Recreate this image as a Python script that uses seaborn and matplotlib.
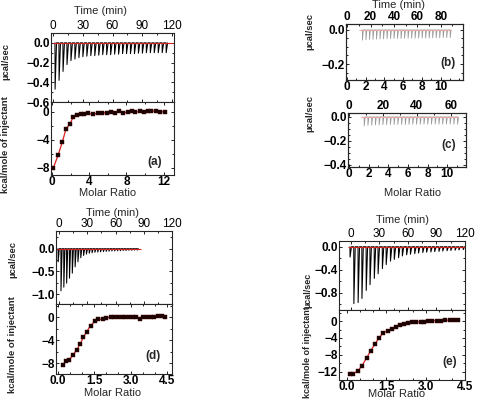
import numpy as np
import pandas as pd
import seaborn as sns
import matplotlib.pyplot as plt
from matplotlib.ticker import MultipleLocator

# ---- panel (a) ----
time_a = [2, 6, 10, 14, 18, 22, 26, 30, 34, 38, 42, 46, 50, 54, 58, 62, 66, 70, 74,
          78, 82, 86, 90, 94, 98, 102, 106, 110, 114]
peak_a = [-0.47, -0.38, -0.29, -0.22, -0.18, -0.165, -0.15, -0.14, -0.135, -0.13,
          -0.13, -0.125, -0.12, -0.12, -0.12, -0.115, -0.115, -0.11, -0.11, -0.11,
          -0.11, -0.105, -0.105, -0.1, -0.1, -0.1, -0.1, -0.1, -0.1]
ratio_a = [0.14, 0.68, 1.11, 1.5, 1.93, 2.29, 2.71, 3.11, 3.46, 3.89, 4.36, 4.96, 5.39,
           5.86, 6.29, 6.75, 7.18, 7.64, 8.11, 8.54, 8.96, 9.43, 9.89, 10.32, 10.68,
           11.14, 11.57, 12.1]
heat_a = [-8.05, -6.1, -4.3, -2.5, -1.7, -0.75, -0.45, -0.3, -0.3, -0.2, -0.35, -0.2,
          -0.2, -0.1, 0.0, -0.1, 0.05, -0.2, 0.0, 0.05, -0.05, 0.05, 0.0, 0.1, 0.1,
          0.1, 0.0, 0.0]

# ---- panel (b) ----
time_b = [13, 16, 19, 22, 25, 28, 31, 34, 37, 40, 43, 46, 49, 52, 55, 58, 61, 64, 67,
          70, 73, 76, 79, 82, 85, 88]
peak_b = [-0.06, -0.058, -0.056, -0.055, -0.054, -0.053, -0.052, -0.052, -0.051, -0.05,
          -0.05, -0.05, -0.049, -0.049, -0.048, -0.048, -0.048, -0.047, -0.047, -0.047,
          -0.046, -0.046, -0.046, -0.045, -0.045, -0.045]

# ---- panel (c) ----
time_c = [9, 11.2, 13.4, 15.6, 17.8, 20, 22.2, 24.4, 26.6, 28.8, 31, 33.2, 35.4, 37.6,
          39.8, 42, 44.2, 46.4, 48.6, 50.8, 53, 55.2, 57.4, 59.6, 61.8, 64]
peak_c = [-0.075, -0.07, -0.068, -0.066, -0.065, -0.064, -0.064, -0.063, -0.063, -0.062,
          -0.062, -0.062, -0.061, -0.061, -0.061, -0.06, -0.06, -0.06, -0.06, -0.06,
          -0.06, -0.06, -0.06, -0.06, -0.06, -0.06]

# ---- panel (d) ----
time_d = [-1, 2, 5, 8, 11, 14, 17, 20, 23, 26, 29, 32, 35, 38, 41, 44, 47, 50, 53, 56,
          59, 62, 65, 68, 71, 74, 77, 80, 83]
peak_d = [-0.29, -0.93, -0.85, -0.76, -0.65, -0.54, -0.40, -0.29, -0.20, -0.15, -0.12,
          -0.10, -0.09, -0.08, -0.075, -0.07, -0.065, -0.06, -0.055, -0.05, -0.05, -0.045,
          -0.045, -0.04, -0.04, -0.035, -0.035, -0.03, -0.03]
ratio_d = [0.19, 0.33, 0.47, 0.63, 0.77, 0.91, 1.05, 1.19, 1.35, 1.53, 1.67, 1.85, 2.0,
           2.18, 2.33, 2.48, 2.63, 2.78, 2.93, 3.08, 3.23, 3.38, 3.53, 3.68, 3.83, 3.98,
           4.13, 4.28, 4.42]
heat_d = [-8.3, -7.7, -7.4, -6.55, -5.7, -4.75, -3.5, -2.5, -1.45, -0.7, -0.4, -0.3, -0.1,
          0.0, 0.0, 0.05, 0.1, 0.1, 0.1, 0.1, 0.1, -0.25, 0.1, 0.1, 0.1, 0.1, 0.15, 0.2, 0.1]

# ---- panel (e) ----
time_e = [-1, 3, 7.5, 11.5, 16, 20, 24.5, 28.5, 33, 37, 41.5, 45.5, 50, 54, 58.5, 62.5,
          67, 71, 75.5, 79.5, 84, 88, 92.5, 96.5, 101, 105, 109.5, 113.5, 118]
peak_e = [-0.18, -0.99, -0.97, -0.90, -0.76, -0.66, -0.55, -0.47, -0.38, -0.31, -0.25,
          -0.22, -0.19, -0.16, -0.14, -0.13, -0.12, -0.11, -0.10, -0.095, -0.09, -0.085,
          -0.08, -0.075, -0.07, -0.065, -0.06, -0.055, -0.05]
ratio_e = [0.11, 0.24, 0.41, 0.56, 0.75, 0.91, 1.07, 1.22, 1.38, 1.55, 1.70, 1.87, 2.02,
           2.18, 2.34, 2.49, 2.65, 2.81, 2.95, 3.10, 3.26, 3.42, 3.58, 3.73, 3.92, 4.09, 4.22]
heat_e = [-12.6, -12.4, -11.8, -10.7, -8.7, -7.0, -5.4, -4.0, -2.8, -2.3, -1.8, -1.4, -1.0,
          -0.7, -0.47, -0.3, -0.24, -0.24, -0.24, -0.1, 0.0, 0.1, 0.1, 0.2, 0.2, 0.2, 0.2]

# baseline extents (min)
base_a = (0, 121)
base_b = (10, 89)
base_c = (7, 64)
base_d = (-2.5, 87)
base_e = (-3, 120)

sns.set_theme(style="ticks")
plt.rcParams['font.family'] = ['Liberation Sans', 'DejaVu Sans']
plt.rcParams['axes.linewidth'] = 0.8

W, H = 478, 400
fig = plt.figure(figsize=(4.78, 4.0), dpi=100)


def px_axes(x0, y0, x1, y1):
    return fig.add_axes([x0 / W, 1 - y1 / H, (x1 - x0) / W, (y1 - y0) / H])


def style(ax, xmaj, xmin, ymaj, ymin):
    ax.xaxis.set_major_locator(MultipleLocator(xmaj))
    ax.xaxis.set_minor_locator(MultipleLocator(xmin))
    ax.yaxis.set_major_locator(MultipleLocator(ymaj))
    ax.yaxis.set_minor_locator(MultipleLocator(ymin))
    ax.tick_params(which='both', direction='in', top=True, right=True,
                   width=0.6, labelsize=8.5, pad=1.0, colors='black')
    ax.tick_params(which='major', length=2.5)
    ax.tick_params(which='minor', length=1.5)
    bold(ax)
    ax.set_xlabel('')
    ax.set_ylabel('')


def bold(ax):
    for lab in ax.get_xticklabels() + ax.get_yticklabels():
        lab.set_fontweight('bold')


def trace(times, peaks, width):
    xs, ys = [], []
    for t, p in zip(times, peaks):
        xs += [t, t + 0.08 * width, t + width]
        ys += [0, p, 0]
    return pd.DataFrame({'t': xs, 'q': ys})


def thermo(ax, times, peaks, width, base, color, bcolor, lw=0.75):
    df = trace(times, peaks, width)
    sns.lineplot(data=df, x='t', y='q', sort=False, estimator=None,
                 color=color, lw=lw, ax=ax)
    ax.hlines(0, base[0], base[1], color=bcolor, lw=0.8, zorder=3)


def binding(ax, ratio, heat):
    df = pd.DataFrame({'r': ratio, 'h': heat})
    sns.lineplot(data=df, x='r', y='h', color='#e02020', lw=0.9, ax=ax, zorder=2)
    sns.scatterplot(data=df, x='r', y='h', marker='s', s=7, color='#150303',
                    edgecolor='#4a0000', linewidth=0.3, ax=ax, zorder=3)


def time_top(ax):
    ax.tick_params(labelbottom=False, labeltop=True)


def vlabel(x, y, s, size=6.8):
    fig.text(x / W, 1 - y / H, s, rotation=90, ha='center', va='center',
             fontsize=size, fontweight='bold')


def hlabel(x, y, s):
    fig.text(x / W, 1 - y / H, s, ha='center', va='center', fontsize=8)


def letter(ax, x, y, s):
    ax.text(x, y, s, transform=ax.transAxes, ha='center', va='center',
            fontsize=8.5, fontweight='bold')


# ---------- (a) ----------
ax = px_axes(51, 33, 174, 102)
thermo(ax, time_a, peak_a, 1.6, base_a, 'black', '#d42020')
ax.set_xlim(-2, 122)
ax.set_ylim(-0.6, 0.1)
style(ax, 30, 15, 0.2, 0.1)
time_top(ax)

ax = px_axes(51, 102, 174, 175)
binding(ax, ratio_a, heat_a)
ax.set_xlim(-0.1, 13.1)
ax.set_ylim(-9, 1.4)
style(ax, 4, 2, 4, 2)
letter(ax, 0.84, 0.18, '(a)')

hlabel(100, 11, 'Time (min)')
hlabel(108, 193, 'Molar Ratio')
vlabel(6, 61, 'µcal/sec')
vlabel(6, 145, 'kcal/mole of injectant')

# ---------- (b) ----------
ax = px_axes(346, 24, 463, 80)
ax.set_xlim(-0.1, 12.4)
ax.set_ylim(-0.294, 0.035)
style(ax, 2, 1, 0.2, 0.05)
ax.set_xticks([0, 2, 4, 6, 8, 10])
ax.tick_params(top=False)
bold(ax)
axt = ax.twiny()
thermo(axt, time_b, peak_b, 0.8, base_b, '#9a9a9a', '#e8a8a8', lw=0.6)
axt.set_xlim(-1, 99)
style(axt, 20, 10, 0.2, 0.05)
axt.tick_params(right=False, bottom=False, labelbottom=False)
letter(ax, 0.87, 0.3, '(b)')
hlabel(399, 5, 'Time (min)')
vlabel(310, 31, 'µcal/sec')

# ---------- (c) ----------
ax = px_axes(348, 113, 466, 167)
ax.set_xlim(-0.1, 11.9)
ax.set_ylim(-0.417, 0.033)
style(ax, 2, 1, 0.2, 0.05)
ax.set_xticks([0, 2, 4, 6, 8, 10])
ax.tick_params(top=False)
bold(ax)
axt = ax.twiny()
thermo(axt, time_c, peak_c, 0.6, base_c, '#9a9a9a', '#e8a8a8', lw=0.6)
axt.set_xlim(-0.5, 69)
style(axt, 20, 10, 0.2, 0.05)
axt.tick_params(right=False, bottom=False, labelbottom=False)
letter(ax, 0.85, 0.4, '(c)')
hlabel(413, 193, 'Molar Ratio')
vlabel(310, 113, 'µcal/sec')

# ---------- (d) ----------
ax = px_axes(56, 231, 172, 304)
thermo(ax, time_d, peak_d, 1.3, base_d, 'black', '#d42020')
ax.set_xlim(-3.2, 120)
ax.set_ylim(-1.22, 0.39)
style(ax, 30, 15, 0.5, 0.25)
time_top(ax)

ax = px_axes(56, 304, 172, 374)
binding(ax, ratio_d, heat_d)
ax.set_xlim(-0.08, 4.71)
ax.set_ylim(-9.9, 2.3)
style(ax, 1.5, 0.5, 4, 2)
ax.xaxis.set_major_formatter(plt.FormatStrFormatter('%.1f'))
bold(ax)
letter(ax, 0.84, 0.25, '(d)')

hlabel(113, 213, 'Time (min)')
hlabel(113, 393, 'Molar Ratio')
vlabel(13, 260, 'µcal/sec')
vlabel(13, 345, 'kcal/mole of injectant')

# ---------- (e) ----------
ax = px_axes(339, 241, 465, 310)
thermo(ax, time_e, peak_e, 1.6, base_e, 'black', '#d42020')
ax.set_xlim(-12.5, 120)
ax.set_ylim(-1.1, 0.1)
style(ax, 30, 15, 0.4, 0.2)
time_top(ax)

ax = px_axes(339, 310, 465, 380)
binding(ax, ratio_e, heat_e)
ax.set_xlim(-0.3, 4.5)
ax.set_ylim(-13.9, 2.6)
style(ax, 1.5, 0.5, 4, 2)
ax.xaxis.set_major_formatter(plt.FormatStrFormatter('%.1f'))
bold(ax)
letter(ax, 0.88, 0.25, '(e)')

hlabel(403, 220, 'Time (min)')
hlabel(397, 394, 'Molar Ratio')
vlabel(308, 290, 'µcal/sec', 6.5)
vlabel(308, 352, 'kcal/mole of injectant', 6.5)

fig.savefig('out.png', dpi=100)
